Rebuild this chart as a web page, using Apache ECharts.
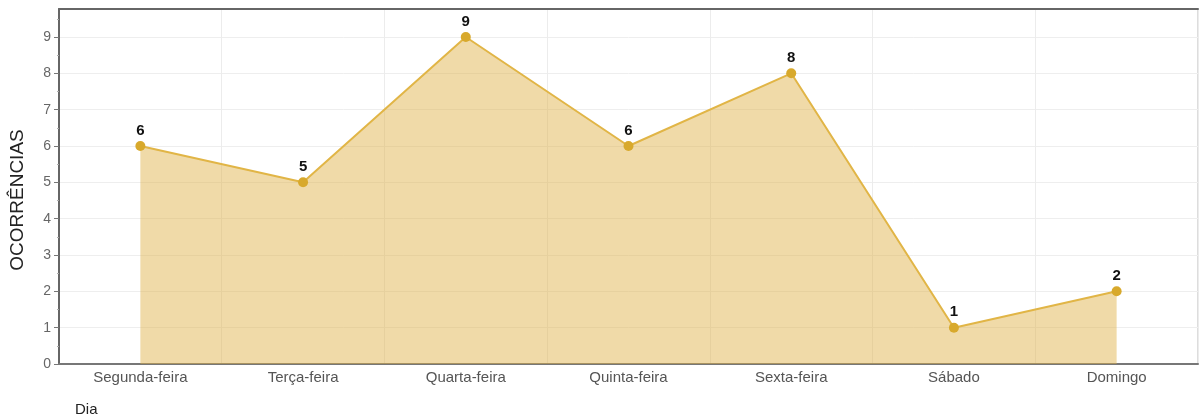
<!DOCTYPE html>
<html>
<head>
<meta charset="utf-8">
<script src="https://cdn.jsdelivr.net/npm/echarts@6/dist/echarts.min.js"></script>
<style>
html,body{margin:0;padding:0;background:#fff;}
#chart{width:1200px;height:419px;}
</style>
</head>
<body>
<div id="chart"></div>
<script>
const categories = ['Segunda-feira','Terça-feira','Quarta-feira','Quinta-feira','Sexta-feira','Sábado','Domingo'];
const ocorrencias = [6, 5, 9, 6, 8, 1, 2];
const yTicks = [0,1,2,3,4,5,6,7,8,9];
const yAxisTitle = 'OCORRÊNCIAS';
const xAxisTitle = 'Dia';

const FONT = 'Liberation Sans, Arial, sans-serif';
const chart = echarts.init(document.getElementById('chart'));
chart.setOption({
  animation: false,
  textStyle: {fontFamily: FONT},
  grid: {left: 59, right: 2, top: 9, bottom: 55, show: true, borderColor: '#bbb', borderWidth: 1},
  graphic: [
    {type: 'text', left: 75, top: 402, style: {text: xAxisTitle, font: '15px ' + FONT, fill: '#222'}},
    {type: 'text', x: 18, y: 200, rotation: Math.PI / 2,
      style: {text: yAxisTitle, font: '19px ' + FONT, fill: '#222', align: 'center', verticalAlign: 'middle'}}
  ],
  xAxis: [{
    type: 'category',
    data: categories,
    boundaryGap: true,
    axisLine: {lineStyle: {color: '#777', width: 2}},
    axisTick: {alignWithLabel: true, length: 4, lineStyle: {color: '#777'}},
    axisLabel: {color: '#555', fontSize: 15, margin: 6},
    splitLine: {show: true, lineStyle: {color: '#ececec'}}
  }, {
    type: 'category',
    data: categories,
    position: 'top',
    boundaryGap: true,
    axisLine: {show: true, lineStyle: {color: '#666', width: 2}},
    axisTick: {show: false},
    axisLabel: {show: false},
    splitLine: {show: false}
  }],
  yAxis: {
    type: 'value',
    min: 0,
    max: 9.77,
    interval: 1,
    axisLine: {show: true, lineStyle: {color: '#666', width: 2}},
    axisTick: {show: true, length: 5, customValues: yTicks, lineStyle: {color: '#777'}},
    minorTick: {show: true, splitNumber: 2, length: 2, lineStyle: {color: '#aaa'}},
    axisLabel: {color: '#666', fontSize: 14, margin: 8, customValues: yTicks},
    splitLine: {show: true, lineStyle: {color: '#eeeeee'}}
  },
  series: [{
    type: 'line',
    data: ocorrencias,
    symbol: 'circle',
    symbolSize: 10,
    itemStyle: {color: '#D8A92C'},
    lineStyle: {color: '#E1B546', width: 2},
    areaStyle: {color: 'rgba(224,178,72,0.68)'},
    label: {show: true, position: 'top', color: '#111', fontWeight: 'bold', fontSize: 15, distance: 3}
  }]
});
</script>
</body>
</html>
